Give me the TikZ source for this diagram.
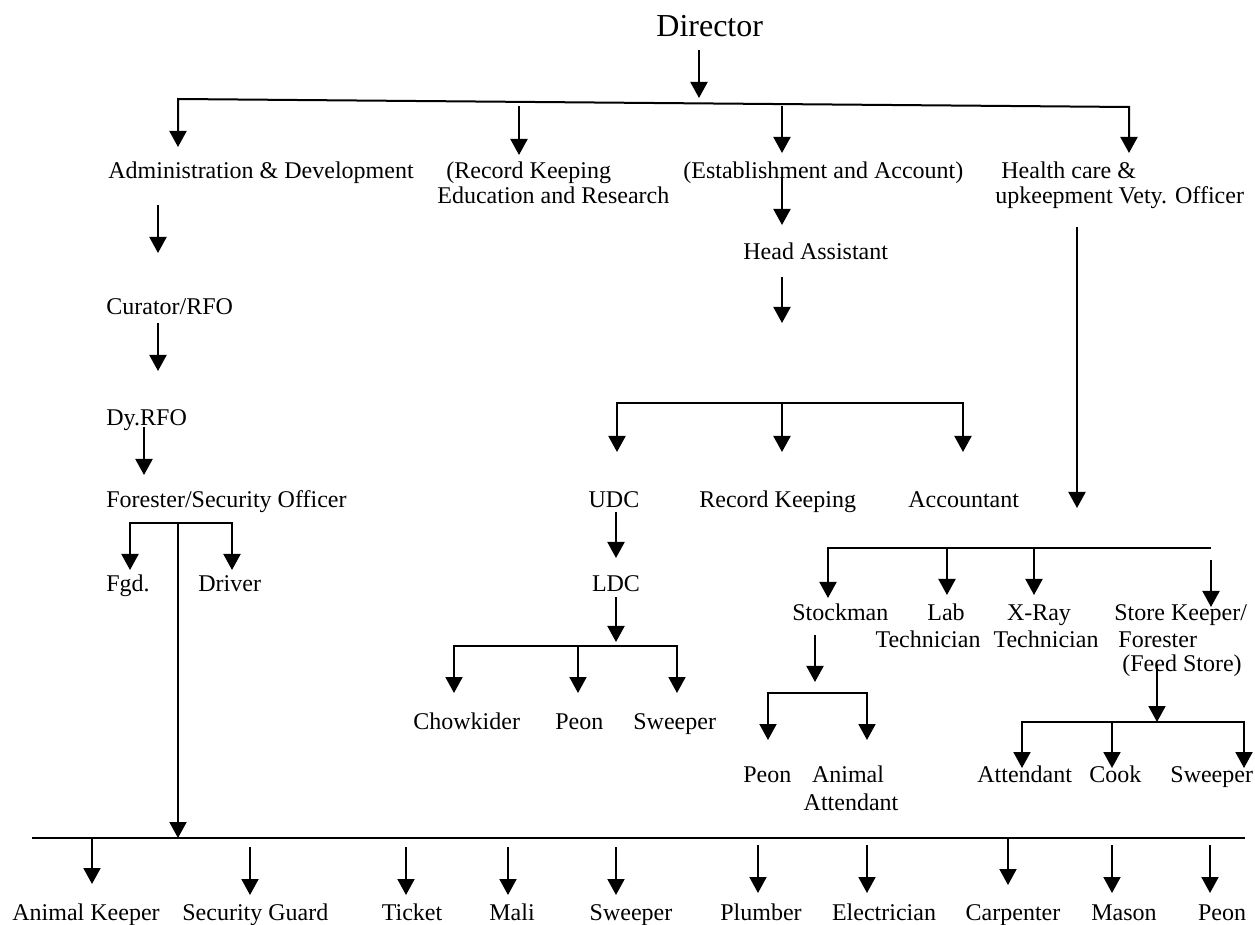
\documentclass[tikz,border=0pt]{standalone}
\usepackage{fontspec}
\setmainfont{Liberation Serif}
\usetikzlibrary{arrows.meta}
\begin{document}
\begin{tikzpicture}[x=0.5pt,y=-0.5pt,
  lbl/.style={inner sep=0pt, anchor=base west, font=\fontsize{12pt}{14pt}\selectfont},
  lblc/.style={inner sep=0pt, anchor=base, font=\fontsize{12pt}{14pt}\selectfont},
  conn/.style={line width=1pt, line join=miter},
  arr/.style={line width=1pt, line join=miter, -{Triangle[width=8.5pt,length=8pt]}},
  arrs/.style={line width=1pt, line join=miter, {Triangle[width=8.5pt,length=8pt]}-},
  arrb/.style={line width=1pt, line join=miter, {Triangle[width=8.5pt,length=8pt]}-{Triangle[width=8.5pt,length=8pt]}}
]
\useasboundingbox (0,0) rectangle (1255,925);

% ---------- text nodes ----------
\node[lbl, font=\fontsize{16pt}{19pt}\selectfont] (dir) at (656,37) {Director};
\node[lbl] (adm) at (108,179) {Administration \& Development};
\node[lbl] (rec1t) at (446,179) {(Record Keeping};
\node[lbl] (rec2t) at (437,204) {Education and Research};
\node[lbl] (est) at (683,179) {(Establishment and Account)};
\node[lbl] (hea1t) at (1001,179) {Health care \&};
\node[lbl] (hea2t) at (995,204) {upkeepment Vety. Officer};
\node[lbl] (ha) at (743,260) {Head Assistant};
\node[lbl] (cur) at (106,315) {Curator/RFO};
\node[lbl] (dy) at (106,426) {Dy.RFO};
\node[lbl] (for) at (106,508) {Forester/Security Officer};
\node[lbl] (fgd) at (106,592) {Fgd.};
\node[lbl] (drv) at (198,592) {Driver};
\node[lblc] (udc) at (614,508) {UDC};
\node[lbl] (rk) at (699,508) {Record Keeping};
\node[lbl] (acc) at (908,508) {Accountant};
\node[lblc] (ldc) at (616,592) {LDC};
\node[lbl] (chw) at (413,729) {Chowkider};
\node[lbl] (peo1) at (555,729) {Peon};
\node[lbl] (swp1) at (633,729) {Sweeper};
\node[lbl] (stk) at (792,620) {Stockman};
\node[lblc] (lab1) at (946,620) {Lab};
\node[lblc] (lab2) at (928,647) {Technician};
\node[lblc] (xr1) at (1039,620) {X-Ray};
\node[lblc] (xr2) at (1046,647) {Technician};
\node[lbl] (sk1) at (1114,620) {Store Keeper/};
\node[lbl] (sk2) at (1118,647) {Forester};
\node[lbl] (sk3) at (1122,672) {(Feed Store)};
\node[lbl] (peo2) at (743,783) {Peon};
\node[lblc] (ani1) at (848,783) {Animal};
\node[lblc] (ani2) at (851,810) {Attendant};
\node[lbl] (att) at (977,782) {Attendant};
\node[lbl] (cok) at (1089,782) {Cook};
\node[lbl] (swp2) at (1170,782) {Sweeper};
\node[lbl] (bak) at (12,920) {Animal Keeper};
\node[lbl] (bsg) at (182,920) {Security Guard};
\node[lblc] (btk) at (412,920) {Ticket};
\node[lblc] (bml) at (512,920) {Mali};
\node[lblc] (bsw) at (631,920) {Sweeper};
\node[lblc] (bpl) at (761,920) {Plumber};
\node[lblc] (bel) at (884,920) {Electrician};
\node[lblc] (bca) at (1013,920) {Carpenter};
\node[lblc] (bma) at (1124,920) {Mason};
\node[lblc] (bpe) at (1222,920) {Peon};

% ---------- connector points ----------
\coordinate (d0) at (699,50);   \coordinate (d1) at (699,98);
\coordinate (tbL) at (178,99);  \coordinate (tbR) at (1129,107);
\coordinate (admT) at (178,147);
\coordinate (rec0) at (519,106); \coordinate (recT) at (519,155);
\coordinate (est0) at (782,106); \coordinate (estT) at (782,153);
\coordinate (heaT) at (1129,153);
\coordinate (ha0) at (782,177);  \coordinate (haT) at (782,225);
\coordinate (hb0) at (782,277);  \coordinate (hbT) at (782,323);
\coordinate (hbL) at (617,403);  \coordinate (hbM) at (782,403); \coordinate (hbR) at (963,403);
\coordinate (udcT) at (617,452); \coordinate (rkT) at (782,452); \coordinate (accT) at (963,452);
\coordinate (hv0) at (1077,227); \coordinate (hvT) at (1077,508);
\coordinate (a0) at (158,205); \coordinate (aT) at (158,253);
\coordinate (c0) at (158,323); \coordinate (cT) at (158,371);
\coordinate (y0) at (144,427); \coordinate (yT) at (144,475);
\coordinate (fbL) at (130,523); \coordinate (fbM) at (178,523); \coordinate (fbR) at (232,523);
\coordinate (fgdT) at (130,570); \coordinate (drvT) at (232,570);
\coordinate (u0) at (616,512); \coordinate (uT) at (616,558);
\coordinate (l0) at (616,597); \coordinate (lT) at (616,642);
\coordinate (lbL) at (454,646); \coordinate (lbM) at (578,646); \coordinate (lbR) at (677,646);
\coordinate (chwT) at (454,693); \coordinate (peo1T) at (578,693); \coordinate (swp1T) at (677,693);
\coordinate (sbL) at (828,548); \coordinate (sbR) at (1211,548);
\coordinate (lab0) at (947,548); \coordinate (xr0) at (1034,548);
\coordinate (stkT) at (828,598); \coordinate (labT) at (947,595); \coordinate (xrT) at (1034,595);
\coordinate (sk0) at (1211,560); \coordinate (skT) at (1211,607);
\coordinate (s0) at (815,635); \coordinate (sT) at (815,682);
\coordinate (ssL) at (768,693); \coordinate (ssR) at (867,693);
\coordinate (peo2T) at (768,740); \coordinate (ani1T) at (867,740);
\coordinate (f0) at (1157,665); \coordinate (fT) at (1157,722);
\coordinate (fsL) at (1022,722); \coordinate (fsM) at (1112,722); \coordinate (fsR) at (1244,722);
\coordinate (attT) at (1022,768); \coordinate (cokT) at (1112,768); \coordinate (swp2T) at (1244,768);
\coordinate (btL) at (32,838); \coordinate (btR) at (1245,838); \coordinate (btM) at (178,838);
\coordinate (bak0) at (92,838);  \coordinate (bakT) at (92,884);
\coordinate (bsg0) at (250,847); \coordinate (bsgT) at (250,895);
\coordinate (btk0) at (406,847); \coordinate (btkT) at (406,895);
\coordinate (bml0) at (508,847); \coordinate (bmlT) at (508,895);
\coordinate (bsw0) at (616,847); \coordinate (bswT) at (616,895);
\coordinate (bpl0) at (758,845); \coordinate (bplT) at (758,893);
\coordinate (bel0) at (867,845); \coordinate (belT) at (867,893);
\coordinate (bca0) at (1008,838); \coordinate (bcaT) at (1008,885);
\coordinate (bma0) at (1112,845); \coordinate (bmaT) at (1112,893);
\coordinate (bpe0) at (1210,845); \coordinate (bpeT) at (1210,893);

% ---------- connectors ----------
\draw[arr] (d0) -- (d1);
\draw[arrb] (admT) -- (tbL) -- (tbR) -- (heaT);
\draw[arr] (rec0) -- (recT);
\draw[arr] (est0) -- (estT);
\draw[arr] (ha0) -- (haT);
\draw[arr] (hb0) -- (hbT);
\draw[arrb] (udcT) -- (hbL) -- (hbR) -- (accT);
\draw[arr] (hbM) -- (rkT);
\draw[arr] (hv0) -- (hvT);
\draw[arr] (a0) -- (aT);
\draw[arr] (c0) -- (cT);
\draw[arr] (y0) -- (yT);
\draw[arrb] (fgdT) -- (fbL) -- (fbR) -- (drvT);
\draw[arr] (fbM) -- (btM);
\draw[arr] (u0) -- (uT);
\draw[arr] (l0) -- (lT);
\draw[arrb] (chwT) -- (lbL) -- (lbR) -- (swp1T);
\draw[arr] (lbM) -- (peo1T);
\draw[arrs] (stkT) -- (sbL) -- (sbR);
\draw[arr] (lab0) -- (labT);
\draw[arr] (xr0) -- (xrT);
\draw[arr] (sk0) -- (skT);
\draw[arr] (s0) -- (sT);
\draw[arrb] (peo2T) -- (ssL) -- (ssR) -- (ani1T);
\draw[arr] (f0) -- (fT);
\draw[arrb] (attT) -- (fsL) -- (fsR) -- (swp2T);
\draw[arr] (fsM) -- (cokT);
\draw[conn] (btL) -- (btR);
\draw[arr] (bak0) -- (bakT);
\draw[arr] (bsg0) -- (bsgT);
\draw[arr] (btk0) -- (btkT);
\draw[arr] (bml0) -- (bmlT);
\draw[arr] (bsw0) -- (bswT);
\draw[arr] (bpl0) -- (bplT);
\draw[arr] (bel0) -- (belT);
\draw[arr] (bca0) -- (bcaT);
\draw[arr] (bma0) -- (bmaT);
\draw[arr] (bpe0) -- (bpeT);
\end{tikzpicture}
\end{document}
